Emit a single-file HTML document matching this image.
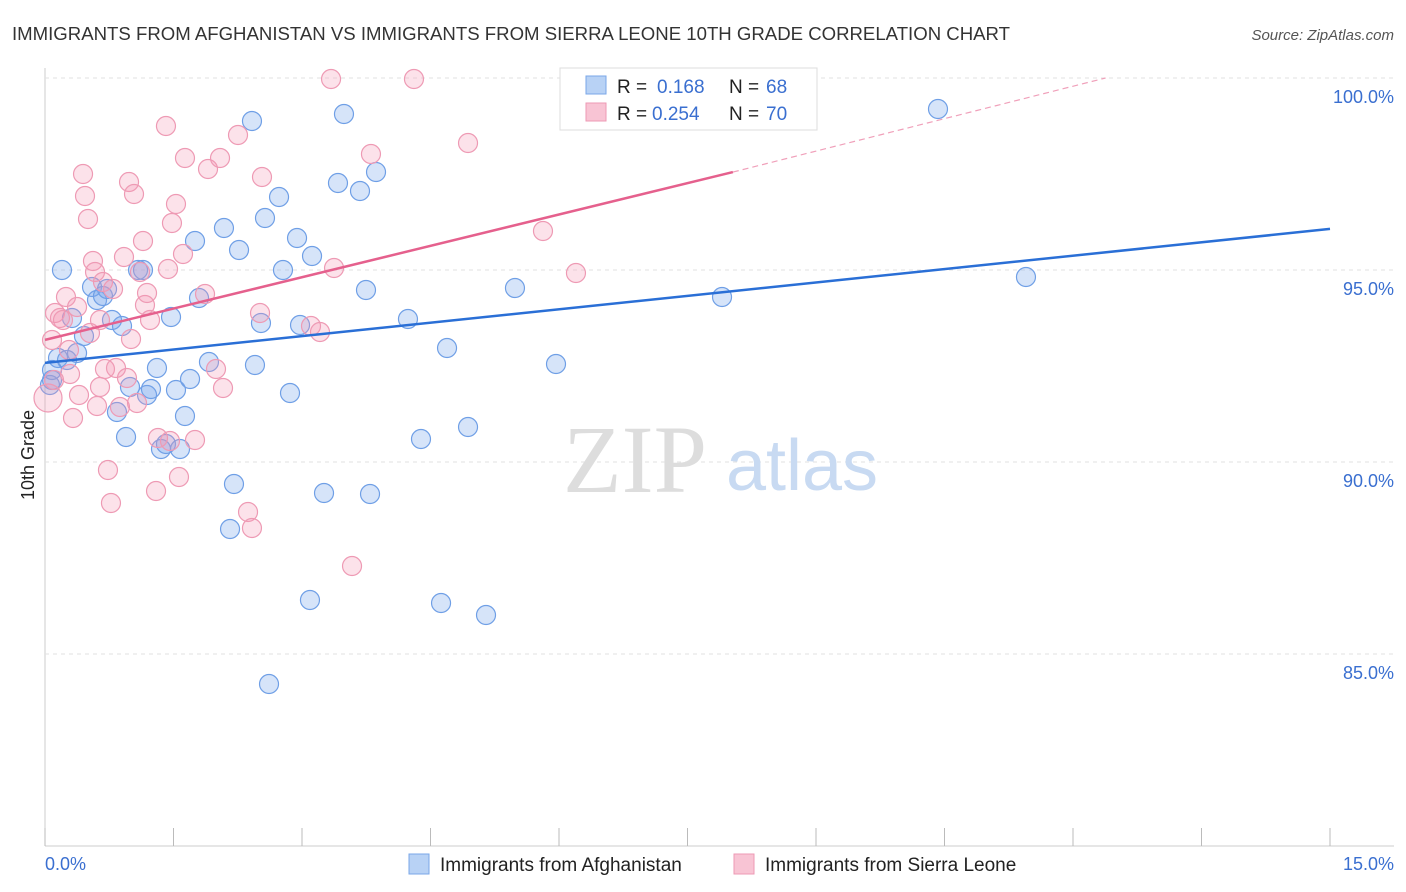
<!DOCTYPE html>
<html><head><meta charset="utf-8"><style>
body{margin:0;background:#fff;font-family:"Liberation Sans",sans-serif;}
svg{display:block}
</style></head><body>
<svg id="chart" width="1406" height="892">
<text x="12" y="40" font-size="18" fill="#333" textLength="998" lengthAdjust="spacingAndGlyphs">IMMIGRANTS FROM AFGHANISTAN VS IMMIGRANTS FROM SIERRA LEONE 10TH GRADE CORRELATION CHART</text>
<text x="1394" y="40" font-size="15" fill="#555" font-style="italic" text-anchor="end">Source: ZipAtlas.com</text>
<g id="grid"></g>
<text x="635" y="492" font-size="96" fill="#ddd" text-anchor="middle" font-family="Liberation Serif,serif">ZIP</text>
<text x="802" y="490" font-size="72" fill="#c8daf2" text-anchor="middle">atlas</text>
<g id="pts"></g>
<g id="lines"></g>
<text x="34" y="455" font-size="18" fill="#222" text-anchor="middle" transform="rotate(-90 34 455)">10th Grade</text>
<text x="45" y="870" font-size="18" fill="#3a6fd0">0.0%</text>
<text x="1394" y="870" font-size="18" fill="#3a6fd0" text-anchor="end">15.0%</text>
<g>
<rect x="560" y="68" width="257" height="62" fill="#fff" stroke="#ddd"/>
<rect x="586" y="76" width="20" height="18" fill="#b8d2f5" stroke="#7aa7e8"/>
<rect x="586" y="103" width="20" height="18" fill="#f8c4d4" stroke="#ee9ab4"/>
<text y="93" font-size="19" fill="#222"><tspan x="617">R =</tspan><tspan x="657" fill="#3a6fd0">0.168</tspan><tspan x="729">N =</tspan><tspan x="766" fill="#3a6fd0">68</tspan></text>
<text y="120" font-size="19" fill="#222"><tspan x="617">R =</tspan><tspan x="652" fill="#3a6fd0">0.254</tspan><tspan x="729">N =</tspan><tspan x="766" fill="#3a6fd0">70</tspan></text>
</g>
<g>
<rect x="409" y="854" width="20" height="20" fill="#b8d2f5" stroke="#7aa7e8"/>
<text x="440" y="871" font-size="19" fill="#222">Immigrants from Afghanistan</text>
<rect x="734" y="854" width="20" height="20" fill="#f8c4d4" stroke="#ee9ab4"/>
<text x="765" y="871" font-size="19" fill="#222">Immigrants from Sierra Leone</text>
</g>
</svg>
<script>
const yTicks=[100,95,90,85];
const xTicks=[0,1.5,3,4.5,6,7.5,9,10.5,12,13.5,15];
const bluePx=[[62,270],[72,318],[58,358],[52,380],[50,385],[67,360],[77,353],[84,336],[92,287],[97,300],[103,296],[107,289],[112,320],[122,326],[117,412],[126,437],[130,387],[138,270],[143,270],[147,395],[151,389],[157,368],[161,449],[166,444],[171,317],[176,390],[180,449],[185,416],[190,379],[195,241],[199,298],[209,362],[224,228],[234,484],[230,529],[239,250],[252,121],[255,365],[261,323],[265,218],[269,684],[279,197],[283,270],[290,393],[297,238],[300,325],[310,600],[312,256],[324,493],[338,183],[344,114],[360,191],[366,290],[370,494],[376,172],[408,319],[421,439],[441,603],[447,348],[468,427],[486,615],[515,288],[556,364],[632,80],[722,297],[938,109],[1026,277],[52,370]];
const pinkPx=[[48,398],[52,340],[55,313],[60,318],[63,320],[66,297],[69,350],[70,374],[73,418],[77,307],[79,395],[83,174],[85,196],[88,219],[90,333],[93,261],[95,272],[97,406],[100,387],[103,282],[105,369],[108,470],[111,503],[113,289],[116,368],[120,407],[124,257],[127,378],[129,182],[131,339],[134,194],[137,403],[140,272],[143,241],[145,305],[147,293],[156,491],[158,438],[166,126],[168,269],[170,441],[172,223],[176,204],[179,477],[183,254],[185,158],[195,440],[205,294],[208,169],[216,369],[220,158],[223,388],[238,135],[248,512],[252,528],[260,313],[262,177],[311,326],[320,332],[334,268],[331,79],[352,566],[371,154],[414,79],[468,143],[543,231],[576,273],[54,380],[100,320],[150,320]];
const blueX=bluePx.map(p=>+((p[0]-45)/1285*15).toFixed(3));
const blueY=bluePx.map(p=>+(100-(p[1]-78)/192*5).toFixed(3));
const pinkX=pinkPx.map(p=>+((p[0]-45)/1285*15).toFixed(3));
const pinkY=pinkPx.map(p=>+(100-(p[1]-78)/192*5).toFixed(3));
const blueLine=[[0,92.58],[15,96.07]];
const pinkLine=[[0,93.18],[8.03,97.55],[12.38,100]];
const sx=v=>45+v/15*1285, sy=v=>78+(100-v)/5*192;
const NS='http://www.w3.org/2000/svg';
function mk(t,a,parent){const e=document.createElementNS(NS,t);for(const k in a)e.setAttribute(k,a[k]);parent.appendChild(e);return e;}
const grid=document.getElementById('grid');
const ax=mk('line',{x1:45,y1:68,x2:45,y2:846,stroke:'#ccc'},grid);


const bx=mk('line',{x1:45,y1:846,x2:1394,y2:846,stroke:'#ccc'},grid);


yTicks.forEach(v=>{
 const g=mk('line',{x1:45,y1:sy(v),x2:1394,y2:sy(v),stroke:'#e2e2e2','stroke-dasharray':'4,4'},grid);
 
 
 const t=mk('text',{x:1394,y:sy(v)+25,'font-size':18,fill:'#3a6fd0','text-anchor':'end'},grid);
 t.textContent=v.toFixed(1)+'%';
 
 
});
xTicks.forEach(v=>{
 const l=mk('line',{x1:sx(v),y1:828,x2:sx(v),y2:846,stroke:'#bbb'},grid);
 
 
});
const pts=document.getElementById('pts');
blueX.forEach((x,i)=>{
 const c=mk('circle',{cx:sx(x),cy:sy(blueY[i]),r:9.5,fill:'rgba(120,165,235,0.3)',stroke:'#6f9fe6','stroke-width':1.2},pts);
 
 
});
pinkX.forEach((x,i)=>{
 const c=mk('circle',{cx:sx(x),cy:sy(pinkY[i]),r:i==0?14:9.5,fill:'rgba(245,150,180,0.28)',stroke:'#ee9ab4','stroke-width':1.2},pts);
 
 
});
const lines=document.getElementById('lines');
const bl=mk('line',{x1:sx(blueLine[0][0]),y1:sy(blueLine[0][1]),x2:sx(blueLine[1][0]),y2:sy(blueLine[1][1]),stroke:'#2a6fd6','stroke-width':2.5},lines);


const pl=mk('line',{x1:sx(pinkLine[0][0]),y1:sy(pinkLine[0][1]),x2:sx(pinkLine[1][0]),y2:sy(pinkLine[1][1]),stroke:'#e5608d','stroke-width':2.5},lines);


const pd=mk('line',{x1:sx(pinkLine[1][0]),y1:sy(pinkLine[1][1]),x2:sx(pinkLine[2][0]),y2:sy(pinkLine[2][1]),stroke:'#f0a0ba','stroke-width':1.2,'stroke-dasharray':'6,4'},lines);


</script>
</body></html>
